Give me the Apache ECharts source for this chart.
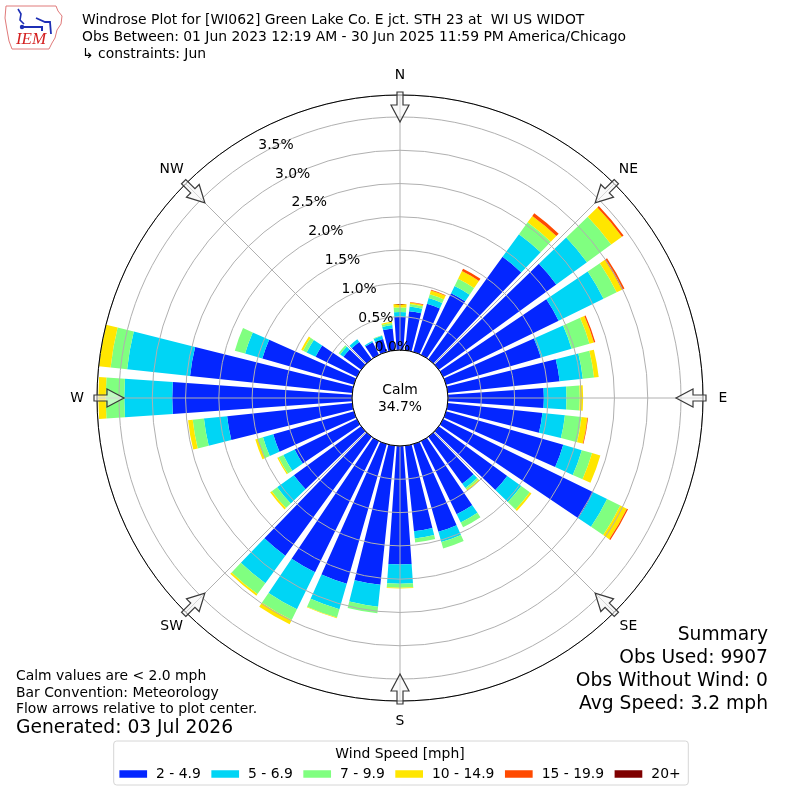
<!DOCTYPE html>
<html>
<head>
<meta charset="utf-8">
<script src="https://cdn.jsdelivr.net/npm/echarts@6.0.0/dist/echarts.min.js"></script>
<style>html,body{margin:0;padding:0;background:#fff}#c{width:800px;height:800px}</style>
</head>
<body>
<div id="c"></div>
<script>
// ---- data ----
const directions = ['0','10','20','30','40','50','60','70','80','90','100','110','120','130','140','150','160','170',
                    '180','190','200','210','220','230','240','250','260','270','280','290','300','310','320','330','340','350'];
const speedBins = ['2 - 4.9', '5 - 6.9', '7 - 9.9', '10 - 14.9', '15 - 19.9', '20+'];
const binColors = ['#0426ff', '#00d5f5', '#80ff80', '#ffe600', '#ff4a00', '#7f0000'];
const spd2to5 = [0.50,0.59,0.75,1.03,1.90,2.18,1.93,1.48,1.69,1.44,1.43,1.83,2.51,1.27,0.87,1.22,1.37,1.29,
                 1.78,2.10,2.18,2.19,2.21,1.25,1.04,1.26,1.89,2.70,2.45,1.43,0.69,0.33,0.32,0.21,0.20,0.33];
const spd5to7 = [0.07,0.07,0.09,0.12,0.42,0.57,0.75,0.48,0.35,0.34,0.34,0.29,0.23,0.26,0.08,0.14,0.16,0.11,
                 0.29,0.33,0.40,0.62,0.51,0.31,0.19,0.16,0.35,0.72,0.95,0.27,0.15,0.06,0.05,0.02,0.05,0.05];
const spd7to10 = [0.07,0.04,0.06,0.12,0.22,0.45,0.22,0.28,0.17,0.20,0.25,0.16,0.22,0.16,0.03,0.08,0.10,0.06,
                  0.06,0.10,0.13,0.18,0.20,0.10,0.08,0.08,0.17,0.28,0.25,0.16,0.06,0.03,0.00,0.00,0.01,0.03];
const spd10to15 = [0.05,0.02,0.06,0.13,0.12,0.20,0.09,0.07,0.07,0.05,0.09,0.13,0.11,0.03,0.02,0.00,0.00,0.00,
                   0.01,0.00,0.01,0.07,0.03,0.03,0.02,0.04,0.07,0.11,0.18,0.00,0.03,0.00,0.00,0.00,0.00,0.02];
const spd15to20 = [0.00,0.01,0.01,0.04,0.05,0.03,0.04,0.02,0.00,0.00,0.01,0.00,0.02,0.00,0.00,0.00,0.00,0.00,
                   0.00,0.00,0.00,0.00,0.00,0.00,0.00,0.00,0.00,0.00,0.00,0.00,0.00,0.00,0.00,0.00,0.00,0.00];
const spd20up = [0,0,0,0,0,0,0,0,0,0,0,0,0,0,0,0,0,0,0,0,0,0,0,0,0,0,0,0,0,0,0,0,0,0,0,0];
const radialMax = 3.83;
const radialStep = 0.5;
const compassLabels = ['N','NE','E','SE','S','SW','W','NW'];
const compassAngles = [0,45,90,135,180,225,270,315];
const calmPct = '34.7%';
const titleLines = ['Windrose Plot for [WI062] Green Lake Co. E jct. STH 23 at  WI US WIDOT',
                    'Obs Between: 01 Jun 2023 12:19 AM - 30 Jun 2025 11:59 PM America/Chicago',
                    '\u21b3 constraints: Jun'];
const noteLines = ['Calm values are < 2.0 mph', 'Bar Convention: Meteorology', 'Flow arrows relative to plot center.'];
const generated = 'Generated: 03 Jul 2026';
const summaryLines = ['Summary', 'Obs Used: 9907', 'Obs Without Wind: 0', 'Avg Speed: 3.2 mph'];

// ---- layout ----
const CX = 400, CY = 398, R_IN = 48, R_OUT = 303;
const FONT = '"DejaVu Sans", sans-serif';
function pt(r, off, deg) {
  const t = deg * Math.PI / 180;
  return [CX + r * Math.sin(t) + off * Math.cos(t), CY - r * Math.cos(t) + off * Math.sin(t)];
}
const arrowShape = [[306,-3],[293,-3],[293,-9],[276,0],[293,9],[293,3],[306,3]];

const graphics = [];
compassAngles.forEach((a, i) => {
  graphics.push({
    type: 'polygon', z: 20, silent: true,
    shape: { points: arrowShape.map(p => pt(p[0], p[1], a)) },
    style: { fill: 'rgba(245,245,245,0.55)', stroke: '#3a3a3a', lineWidth: 1.2 }
  });
  const p = pt(323, 0, a);
  graphics.push({
    type: 'text', z: 20, silent: true,
    style: { text: compassLabels[i], x: p[0], y: p[1], fill: '#000', font: '13.9px ' + FONT, align: 'center', verticalAlign: 'middle' }
  });
});
graphics.push({ type: 'text', z: 20, style: { text: 'Calm', x: CX, y: 390, fill: '#000', font: '13.9px ' + FONT, align: 'center', verticalAlign: 'middle' } });
graphics.push({ type: 'text', z: 20, style: { text: calmPct, x: CX, y: 407, fill: '#000', font: '13.9px ' + FONT, align: 'center', verticalAlign: 'middle' } });
titleLines.forEach((t, i) => {
  graphics.push({ type: 'text', z: 20, style: { text: t, x: 82, y: 20.5 + 17 * i, fill: '#000', font: '13.9px ' + FONT, align: 'left', verticalAlign: 'middle' } });
});
noteLines.forEach((t, i) => {
  graphics.push({ type: 'text', z: 20, style: { text: t, x: 16, y: 676.5 + 16.4 * i, fill: '#000', font: '13.9px ' + FONT, align: 'left', verticalAlign: 'middle' } });
});
graphics.push({ type: 'text', z: 20, style: { text: generated, x: 16, y: 728.5, fill: '#000', font: '18.7px ' + FONT, align: 'left', verticalAlign: 'middle' } });
summaryLines.forEach((t, i) => {
  graphics.push({ type: 'text', z: 20, style: { text: t, x: 768, y: 635.5 + 22.9 * i, fill: '#000', font: '18.7px ' + FONT, align: 'right', verticalAlign: 'middle' } });
});
graphics.push({ type: 'text', z: 20, style: { text: 'Wind Speed [mph]', x: 400, y: 754, fill: '#000', font: '13.9px ' + FONT, align: 'center', verticalAlign: 'middle' } });
// IEM logo
graphics.push({ type: 'polygon', z: 20, shape: { points: [[6,6],[56,6],[58,11],[62,16],[61,24],[57,30],[55,38],[52,43],[49,49],[12,49],[9,41],[7,30],[5,18]] },
  style: { fill: 'none', stroke: '#e07a7a', lineWidth: 1 } });
graphics.push({ type: 'polyline', z: 20, shape: { points: [[18,9],[21,14],[20,20],[24,24]] }, style: { stroke: '#1d2fb5', lineWidth: 1.6, fill: 'none' } });
graphics.push({ type: 'polyline', z: 20, shape: { points: [[22,27],[42,27],[42,31]] }, style: { stroke: '#1d2fb5', lineWidth: 2, fill: 'none' } });
graphics.push({ type: 'polyline', z: 20, shape: { points: [[36,18],[45,22],[50,22],[51,34]] }, style: { stroke: '#1d2fb5', lineWidth: 1.8, fill: 'none' } });
graphics.push({ type: 'circle', z: 20, shape: { cx: 22, cy: 27, r: 2.2 }, style: { fill: '#1d2fb5' } });
graphics.push({ type: 'text', z: 20, style: { text: 'IEM', x: 31, y: 40, fill: '#d42020', font: 'italic 17px "Liberation Serif", serif', align: 'center', verticalAlign: 'middle' } });

const series = [spd2to5, spd5to7, spd7to10, spd10to15, spd15to20, spd20up].map((d, i) => ({
  type: 'bar', name: speedBins[i], coordinateSystem: 'polar', polarIndex: 0, stack: 'wind',
  data: d, barWidth: '80%', itemStyle: { color: binColors[i] }, silent: true, z: 2
}));

const chart = echarts.init(document.getElementById('c'), null, { renderer: 'canvas' });
chart.setOption({
  animation: false,
  backgroundColor: '#fff',
  textStyle: { fontFamily: FONT },
  polar: [
    { center: [CX, CY], radius: [R_IN, R_OUT] },
    { center: [CX, CY], radius: [R_IN, R_OUT] },
    { center: [CX, CY], radius: [R_IN, R_OUT] }
  ],
  angleAxis: [
    { polarIndex: 0, type: 'category', data: directions, startAngle: 95, clockwise: true, boundaryGap: true,
      axisLine: { show: false }, axisTick: { show: false }, axisLabel: { show: false }, splitLine: { show: false } },
    { polarIndex: 1, type: 'value', min: 0, max: 360, interval: 45, startAngle: 90, clockwise: true, z: 5,
      axisLine: { show: false }, axisTick: { show: false }, axisLabel: { show: false },
      splitLine: { show: true, lineStyle: { color: '#b0b0b0', width: 1 } } },
    { polarIndex: 2, type: 'value', min: 0, max: 360, startAngle: 120, clockwise: true, z: 6,
      axisLine: { show: true, lineStyle: { color: '#000', width: 1 } }, axisTick: { show: false },
      axisLabel: { show: false }, splitLine: { show: false } }
  ],
  radiusAxis: [
    { polarIndex: 0, type: 'value', min: 0, max: radialMax,
      axisLine: { show: false }, axisTick: { show: false }, axisLabel: { show: false }, splitLine: { show: false } },
    { polarIndex: 1, type: 'value', min: 0, max: radialMax, interval: radialStep, z: 5,
      axisLine: { show: false }, axisTick: { show: false }, axisLabel: { show: false },
      splitLine: { show: true, lineStyle: { color: '#b0b0b0', width: 1 } } },
    { polarIndex: 2, type: 'value', min: 0, max: radialMax, interval: radialStep, z: 7,
      axisLine: { show: false }, axisTick: { show: false }, splitLine: { show: false },
      axisLabel: { show: true, margin: -19, showMaxLabel: false, align: 'center', verticalAlign: 'middle',
        fontSize: 13.9, color: '#000',
        formatter: v => (Math.abs(v / radialStep - Math.round(v / radialStep)) < 1e-6 ? v.toFixed(1) + '%' : '') } }
  ],
  legend: {
    data: speedBins, left: 'center', top: 741, orient: 'horizontal',
    icon: 'rect', itemWidth: 27.7, itemHeight: 7.5, itemGap: 10.5,
    padding: [26, 7.7, 4, 5.7], borderColor: '#d6d6d6', borderWidth: 1, borderRadius: 3,
    textStyle: { fontSize: 13.9, color: '#000', padding: [0, 0, 0, 4] },
    selectedMode: false
  },
  graphic: graphics,
  series: series
});
</script>
</body>
</html>
